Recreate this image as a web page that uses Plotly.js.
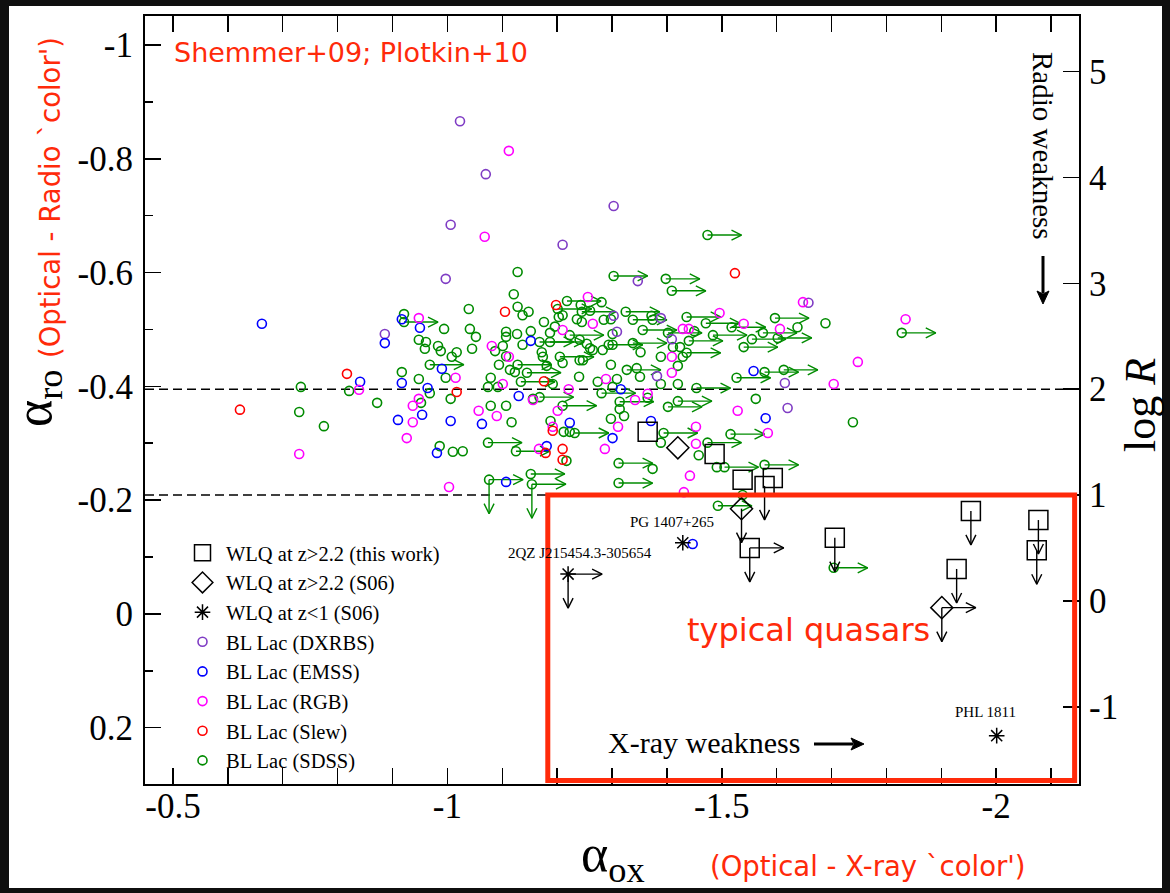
<!DOCTYPE html>
<html>
<head>
<meta charset="utf-8">
<script src="https://cdn.plot.ly/plotly-3.0.1.min.js"></script>
<style>
  html, body { margin: 0; padding: 0; background: #0f0f0f; width: 1170px; height: 893px; overflow: hidden; }
  #chart { position: absolute; left: 0; top: 0; width: 1170px; height: 893px; }
</style>
</head>
<body>
<div id="chart"></div>
<script>
// ---- BL Lac samples: alpha_ox and alpha_ro ----
const dxrbsAox = [-1.023,-1.070,-1.303,-1.006,-1.210,-0.997,-1.347,-0.886,-1.658,-1.382,-1.409,-1.389,-1.309,-1.303,-1.615,-1.620];
const dxrbsAro = [-0.866,-0.773,-0.717,-0.684,-0.649,-0.589,-0.585,-0.492,-0.547,-0.418,-0.483,-0.520,-0.496,-0.524,-0.406,-0.362];

const emssAox = [-0.662,-0.841,-0.886,-0.917,-0.950,-0.990,-0.917,-0.964,-0.954,-1.006,-0.981,-0.910,-1.063,-1.130,-1.152,-1.181,-1.223,-1.301,-1.316,-1.371,-1.107,-1.558,-1.580,-1.447];
const emssAro = [-0.510,-0.408,-0.476,-0.518,-0.503,-0.431,-0.406,-0.397,-0.350,-0.339,-0.283,-0.341,-0.334,-0.383,-0.480,-0.295,-0.336,-0.309,-0.395,-0.339,-0.232,-0.427,-0.344,-0.123];

const rgbAox = [-1.112,-1.068,-1.256,-0.948,-0.730,-0.839,-0.948,-0.937,-0.937,-0.926,-1.003,-1.015,-1.057,-1.090,-1.101,-1.081,-1.112,-1.156,-1.221,-1.201,-1.192,-1.167,-1.287,-1.311,-1.289,-1.342,-1.365,-1.210,-1.265,-1.409,-1.409,-1.429,-1.440,-1.496,-1.540,-1.606,-1.648,-1.835,-1.748,-1.704,-1.529,-1.584,-1.453,-1.453,-1.442,-1.431];
const rgbAro = [-0.814,-0.663,-0.557,-0.520,-0.281,-0.394,-0.378,-0.366,-0.337,-0.309,-0.223,-0.415,-0.357,-0.348,-0.404,-0.471,-0.452,-0.376,-0.395,-0.357,-0.329,-0.290,-0.290,-0.329,-0.413,-0.376,-0.387,-0.499,-0.510,-0.424,-0.452,-0.501,-0.501,-0.529,-0.510,-0.501,-0.548,-0.518,-0.443,-0.404,-0.357,-0.318,-0.329,-0.299,-0.243,-0.214];

const slewAox = [-0.622,-0.817,-1.017,-1.105,-1.198,-1.176,-1.192,-1.179,-1.210,-1.210,-1.524];
const slewAro = [-0.359,-0.422,-0.390,-0.531,-0.543,-0.409,-0.322,-0.283,-0.290,-0.271,-0.599];

// SDSS: detections
const sdssAox = [-1.128,-1.121,-1.039,-1.281,-1.128,-1.148,-1.137,-0.921,-0.733,-0.730,
  -0.775,-0.821,-0.872,-0.994,-1.041,-1.052,-0.948,-0.961,-0.959,-0.983,
  -0.988,-1.017,-1.008,-1.045,-0.997,-0.917,-0.948,-0.968,-1.006,-0.952,
  -0.986,-1.010,-1.028,-1.079,-1.107,-1.117,-1.074,-1.092,-1.079,-1.192,
  -1.240,-1.156,-1.188,-1.212,-1.223,-1.298,-1.322,-1.314,-1.301,-1.274,
  -1.309,-1.345,-1.351,-1.298,-1.181,-1.210,-1.241,-1.247,-1.174,-1.172,
  -1.114,-1.123,-1.094,-1.107,-1.087,-1.101,-1.107,-1.107,-1.127,-1.137,
  -1.152,-1.176,-1.187,-1.254,-1.260,-1.265,-1.241,-1.301,-1.352,-1.301,
  -1.203,-1.236,-1.245,-1.260,-1.285,-1.298,-1.372,-1.243,-1.217,-1.389,
  -1.374,-1.458,-1.491,-1.538,-1.365,-1.420,-1.389,-1.420,-1.389,-1.429,
  -1.411,-1.424,-1.374,-1.638,-1.689,-1.562,-1.739,-1.450,-1.283,-1.196,
  -1.210];
const sdssAro = [-0.601,-0.562,-0.536,-0.548,-0.540,-0.531,-0.525,-0.527,-0.399,-0.355,
  -0.330,-0.392,-0.371,-0.501,-0.501,-0.487,-0.482,-0.478,-0.466,-0.471,
  -0.462,-0.460,-0.452,-0.466,-0.415,-0.425,-0.413,-0.388,-0.378,-0.371,
  -0.295,-0.285,-0.286,-0.366,-0.366,-0.337,-0.399,-0.399,-0.415,-0.404,
  -0.417,-0.378,-0.339,-0.320,-0.320,-0.343,-0.348,-0.360,-0.399,-0.408,
  -0.413,-0.432,-0.417,-0.438,-0.436,-0.441,-0.446,-0.446,-0.452,-0.460,
  -0.429,-0.425,-0.438,-0.453,-0.462,-0.471,-0.487,-0.496,-0.492,-0.473,
  -0.497,-0.513,-0.494,-0.475,-0.467,-0.464,-0.482,-0.473,-0.460,-0.492,
  -0.522,-0.518,-0.513,-0.533,-0.517,-0.518,-0.524,-0.543,-0.269,-0.301,
  -0.255,-0.279,-0.258,-0.209,-0.380,-0.404,-0.404,-0.436,-0.452,-0.452,
  -0.469,-0.469,-0.517,-0.504,-0.511,-0.378,-0.337,-0.497,-0.464,-0.505,
  -0.525];

// SDSS: X-ray upper limits (alpha_ox is a limit)
const sdssXlimAox = [-1.303,-1.398,-1.409,-1.218,-1.474,-1.597,-1.828,-1.471,-1.518,-1.575,
  -1.602,-1.555,-1.540,-1.578,-1.613,-1.527,-1.516,-1.474,-1.505,-1.578,
  -1.493,-1.394,-1.402,-1.420,-1.454,-1.436,-1.440,-1.402,-1.356,-1.436,
  -1.484,-0.921,-0.968,-1.134,-1.168,-1.210,-1.232,-1.314,-1.281,-1.327,
  -1.205,-1.128,-1.145,-1.168,-1.187,-1.223,-1.294,-1.338,-1.201,-1.245,
  -1.325,-1.338,-1.074,-1.125,-1.312,-1.312,-1.152,-1.704];
const sdssXlimAro = [-0.594,-0.589,-0.568,-0.550,-0.666,-0.520,-0.494,-0.511,-0.504,-0.494,
  -0.485,-0.483,-0.469,-0.425,-0.429,-0.415,-0.316,-0.301,-0.258,-0.262,
  -0.190,-0.318,-0.364,-0.374,-0.397,-0.459,-0.480,-0.494,-0.499,-0.522,
  -0.490,-0.513,-0.438,-0.408,-0.381,-0.366,-0.318,-0.373,-0.388,-0.429,
  -0.452,-0.438,-0.424,-0.478,-0.478,-0.490,-0.473,-0.476,-0.536,-0.531,
  -0.531,-0.517,-0.301,-0.286,-0.265,-0.230,-0.246,-0.081];

// SDSS: X-ray and radio upper limits
const sdssBothAox = [-1.076,-1.154];
const sdssBothAro = [-0.236,-0.228];

// ---- Weak-line quasars ----
const wlqAox  = [-1.365,-1.487,-1.538,-1.593,-1.578,-1.551,-1.706,-1.954,-2.077,-2.074,-1.928];
const wlqAro  = [-0.320,-0.281,-0.236,-0.239,-0.225,-0.116,-0.134,-0.181,-0.165,-0.112,-0.079];
const wlqXlim = [0,0,0,0,0,1,0,0,0,0,0];
const wlqRlim = [0,0,0,0,1,1,1,1,1,1,1];

const s06Aox  = [-1.420,-1.536,-1.901];
const s06Aro  = [-0.292,-0.185,-0.011];
const s06Xlim = [0,0,1];
const s06Rlim = [0,1,1];

const lowzAox  = [-1.429,-1.220,-2.001];
const lowzAro  = [-0.125,-0.070,0.214];
const lowzName = ['PG 1407+265','2QZ J215454.3-305654','PHL 1811'];
const lowzXlim = [0,1,0];
const lowzRlim = [0,1,0];

// ---- Axes ----
const xTickVals = [-0.5,-1,-1.5,-2];
const xTickText = ['-0.5','-1','-1.5','-2'];
const yTickVals = [-1,-0.8,-0.6,-0.4,-0.2,0,0.2];
const yTickText = ['-1','-0.8','-0.6','-0.4','-0.2','0','0.2'];
const logRTickVals = [-1,0,1,2,3,4,5];
const logRTickText = ['-1','0','1','2','3','4','5'];
const logRLines = [1,2];

const X_RANGE = [-0.449,-2.151];
const Y_RANGE = [0.299,-1.051];
// alpha_ro <-> log R conversion
const RO_AT_LOGR2 = -0.395, RO_PER_LOGR = -0.1862;
const toLogR = a => 2 + (a - RO_AT_LOGR2) / RO_PER_LOGR;
const Y2_RANGE = [toLogR(Y_RANGE[0]), toLogR(Y_RANGE[1])];

// ---- Geometry ----
const W = 1170, H = 893;
const M = {l: 145, r: 91, t: 16, b: 109};
const plotW = W - M.l - M.r, plotH = H - M.t - M.b;
const pxX = plotW / Math.abs(X_RANGE[1] - X_RANGE[0]);
const pxY = plotH / Math.abs(Y_RANGE[1] - Y_RANGE[0]);
const px2x = p => (p - M.l) / plotW;
const py2y = p => 1 - (p - M.t) / plotH;

const ARROW_LEN = 34, HEAD_BACK = 10, HEAD_HALF = 5;
const RED = '#ff2a0a';
const SERIF = 'Liberation Serif';
const COMIC = 'DejaVu Sans';

// arrows toward weaker X-ray (more negative alpha_ox)
function rightArrows(xs, ys, flags) {
  const X = [], Y = [];
  xs.forEach((x0, i) => {
    if (flags && !flags[i]) return;
    const y0 = ys[i];
    const tip = x0 - ARROW_LEN / pxX;
    const back = tip + HEAD_BACK / pxX;
    X.push(x0, tip, null, back, tip, back, null);
    Y.push(y0, y0, null, y0 - HEAD_HALF / pxY, y0, y0 + HEAD_HALF / pxY, null);
  });
  return {X, Y};
}
// arrows toward weaker radio (larger alpha_ro)
function downArrows(xs, ys, flags) {
  const X = [], Y = [];
  xs.forEach((x0, i) => {
    if (flags && !flags[i]) return;
    const y0 = ys[i];
    const tip = y0 + ARROW_LEN / pxY;
    const back = tip - HEAD_BACK / pxY;
    X.push(x0, x0, null, x0 - HEAD_HALF / pxX, x0, x0 + HEAD_HALF / pxX, null);
    Y.push(y0, tip, null, back, tip, back, null);
  });
  return {X, Y};
}
function merge(...parts) {
  return {X: [].concat(...parts.map(p => p.X)), Y: [].concat(...parts.map(p => p.Y))};
}

const greenArrows = merge(
  rightArrows(sdssXlimAox, sdssXlimAro),
  rightArrows(sdssBothAox, sdssBothAro),
  downArrows(sdssBothAox, sdssBothAro)
);
const blackArrows = merge(
  rightArrows(wlqAox, wlqAro, wlqXlim), downArrows(wlqAox, wlqAro, wlqRlim),
  rightArrows(s06Aox, s06Aro, s06Xlim), downArrows(s06Aox, s06Aro, s06Rlim),
  rightArrows(lowzAox, lowzAro, lowzXlim), downArrows(lowzAox, lowzAro, lowzRlim)
);

function circles(name, xs, ys, color, rank) {
  return {type: 'scatter', mode: 'markers', name, x: xs, y: ys, legendrank: rank,
    marker: {symbol: 'circle-open', size: 9, color, line: {color, width: 1.6}}};
}

const GREEN = '#008b00';
const traces = [
  {type: 'scatter', mode: 'lines', x: greenArrows.X, y: greenArrows.Y, showlegend: false,
   line: {color: GREEN, width: 1.4}},
  circles('BL Lac (SDSS)', sdssAox.concat(sdssXlimAox, sdssBothAox),
          sdssAro.concat(sdssXlimAro, sdssBothAro), GREEN, 8),
  circles('BL Lac (DXRBS)', dxrbsAox, dxrbsAro, '#7f3cc4', 4),
  circles('BL Lac (EMSS)', emssAox, emssAro, '#0000ff', 5),
  circles('BL Lac (RGB)', rgbAox, rgbAro, '#ff00ff', 6),
  circles('BL Lac (Slew)', slewAox, slewAro, '#ff0000', 7),
  {type: 'scatter', mode: 'lines', x: blackArrows.X, y: blackArrows.Y, showlegend: false,
   line: {color: '#000', width: 1.4}},
  {type: 'scatter', mode: 'markers', name: 'WLQ at z&gt;2.2 (this work)', x: wlqAox, y: wlqAro, legendrank: 1,
   marker: {symbol: 'square-open', size: 19, color: '#000', line: {color: '#000', width: 1.5}}},
  {type: 'scatter', mode: 'markers', name: 'WLQ at z&gt;2.2 (S06)', x: s06Aox, y: s06Aro, legendrank: 2,
   marker: {symbol: 'diamond-open', size: 17, color: '#000', line: {color: '#000', width: 1.5}}},
  {type: 'scatter', mode: 'markers', name: 'WLQ at z&lt;1 (S06)', x: lowzAox, y: lowzAro, legendrank: 3,
   marker: {symbol: 'asterisk-open', size: 13, color: '#000', line: {color: '#000', width: 1.5}}},
  // carries the log R scale on the right-hand side
  {type: 'scatter', mode: 'markers', x: [], y: [], yaxis: 'y2', showlegend: false}
];

// white sheet behind the figure, dark frame around it
const shapes = [{type: 'rect', xref: 'paper', yref: 'paper', layer: 'below',
  x0: px2x(9), x1: px2x(1162), y0: py2y(888), y1: py2y(6),
  fillcolor: '#fff', line: {width: 0}}];
logRLines.forEach(v => shapes.push({
  type: 'line', xref: 'paper', x0: 0, x1: 1, yref: 'y2', y0: v, y1: v,
  line: {color: '#000', width: 1.5, dash: '9px,5px'}, layer: 'below'
}));
shapes.push({type: 'rect', xref: 'x', yref: 'y', x0: -1.183, x1: -2.143,
  y0: RO_AT_LOGR2 - RO_PER_LOGR, y1: 0.293, line: {color: RED, width: 5}});

// pointer arrows next to the "weakness" captions (shaft + filled head)
function pointer(x0, y0, x1, y1) {
  const len = Math.hypot(x1 - x0, y1 - y0), ux = (x1 - x0) / len, uy = (y1 - y0) / len;
  const head = 13, half = 6;
  const bx = x1 - ux * head, by = y1 - uy * head;
  shapes.push({type: 'line', xref: 'paper', yref: 'paper',
    x0: px2x(x0), y0: py2y(y0), x1: px2x(bx + ux * 2), y1: py2y(by + uy * 2),
    line: {color: '#000', width: 3}});
  const pts = [[x1, y1], [bx - uy * half, by + ux * half], [bx + ux * 3, by + uy * 3], [bx + uy * half, by - ux * half]];
  shapes.push({type: 'path', xref: 'paper', yref: 'paper',
    path: 'M' + pts.map(p => px2x(p[0]) + ',' + py2y(p[1])).join(' L') + ' Z',
    fillcolor: '#000', line: {color: '#000', width: 1}});
}
pointer(814, 744, 864, 744);
pointer(1043, 256, 1043, 304);

const annotations = [
  {text: 'Shemmer+09; Plotkin+10', xref: 'paper', yref: 'paper', x: px2x(172), y: py2y(52),
   xanchor: 'left', yanchor: 'middle', showarrow: false, font: {family: COMIC, size: 27, color: RED}},
  {text: 'typical quasars', xref: 'paper', yref: 'paper', x: px2x(808), y: py2y(630),
   xanchor: 'center', yanchor: 'middle', showarrow: false, font: {family: COMIC, size: 32, color: RED}},
  {text: 'X-ray weakness', xref: 'paper', yref: 'paper', x: px2x(606), y: py2y(742),
   xanchor: 'left', yanchor: 'middle', showarrow: false, font: {family: SERIF, size: 30, color: '#000'}},
  {text: 'Radio weakness', xref: 'paper', yref: 'paper', x: px2x(1043), y: py2y(146),
   xanchor: 'center', yanchor: 'middle', textangle: 90, showarrow: false,
   font: {family: SERIF, size: 29, color: '#000'}},
  {text: 'α<sub>ro</sub>', xref: 'paper', yref: 'paper', x: px2x(38), y: py2y(398),
   xanchor: 'center', yanchor: 'middle', textangle: -90, showarrow: false,
   font: {family: SERIF, size: 52, color: '#000'}},
  {text: "(Optical - Radio `color')", xref: 'paper', yref: 'paper', x: px2x(50), y: py2y(198),
   xanchor: 'center', yanchor: 'middle', textangle: -90, showarrow: false,
   font: {family: COMIC, size: 27.5, color: RED}},
  {text: 'α<sub>ox</sub>', xref: 'paper', yref: 'paper', x: px2x(613), y: py2y(857),
   xanchor: 'center', yanchor: 'middle', showarrow: false,
   font: {family: SERIF, size: 52, color: '#000'}},
  {text: "(Optical - X-ray `color')", xref: 'paper', yref: 'paper', x: px2x(868), y: py2y(866),
   xanchor: 'center', yanchor: 'middle', showarrow: false,
   font: {family: COMIC, size: 27.5, color: RED}},
  {text: 'log <i>R</i>', xref: 'paper', yref: 'paper', x: px2x(1140), y: py2y(405),
   xanchor: 'center', yanchor: 'middle', textangle: -90, showarrow: false,
   font: {family: SERIF, size: 44, color: '#000'}}
];
const labelShift = [[-11, 21], [12, 21], [-11, 24]];
lowzName.forEach((n, i) => annotations.push({
  text: n, xref: 'x', yref: 'y', x: lowzAox[i], y: lowzAro[i],
  xshift: labelShift[i][0], yshift: labelShift[i][1], showarrow: false,
  xanchor: 'center', yanchor: 'middle', font: {family: SERIF, size: 15, color: '#000'}
}));

const tickFont = {family: SERIF, size: 35, color: '#000'};
const layout = {
  width: W, height: H, margin: M,
  paper_bgcolor: '#0f0f0f', plot_bgcolor: '#fff',
  showlegend: true,
  legend: {x: px2x(179), y: py2y(533), xanchor: 'left', yanchor: 'top', itemwidth: 37,
    bgcolor: 'rgba(0,0,0,0)', borderwidth: 0, font: {family: SERIF, size: 20.5, color: '#000'},
    traceorder: 'normal'},
  xaxis: {range: X_RANGE, tickmode: 'array', tickvals: xTickVals, ticktext: xTickText,
    ticks: 'inside', ticklen: 16, tickwidth: 1.5, tickcolor: '#000',
    minor: {ticks: 'inside', ticklen: 8, tickwidth: 1.5, tickcolor: '#000', tickmode: 'linear', tick0: 0, dtick: 0.1},
    showline: true, linewidth: 2, linecolor: '#000', mirror: 'allticks',
    showgrid: false, zeroline: false, tickfont: tickFont, ticklabelstandoff: -10},
  yaxis: {range: Y_RANGE, tickmode: 'array', tickvals: yTickVals, ticktext: yTickText,
    ticks: 'inside', ticklen: 16, tickwidth: 1.5, tickcolor: '#000',
    minor: {ticks: 'inside', ticklen: 8, tickwidth: 1.5, tickcolor: '#000', tickmode: 'linear', tick0: 0, dtick: 0.1},
    showline: true, linewidth: 2, linecolor: '#000',
    showgrid: false, zeroline: false, tickfont: tickFont, ticklabelstandoff: 3},
  yaxis2: {overlaying: 'y', side: 'right', range: Y2_RANGE, tickmode: 'array',
    tickvals: logRTickVals, ticktext: logRTickText,
    ticks: 'inside', ticklen: 16, tickwidth: 1.5, tickcolor: '#000',
    showline: true, linewidth: 2, linecolor: '#000',
    showgrid: false, zeroline: false, tickfont: tickFont, ticklabelstandoff: 1},
  shapes, annotations
};

Plotly.newPlot('chart', traces, layout, {staticPlot: true, displayModeBar: false});
</script>
</body>
</html>
